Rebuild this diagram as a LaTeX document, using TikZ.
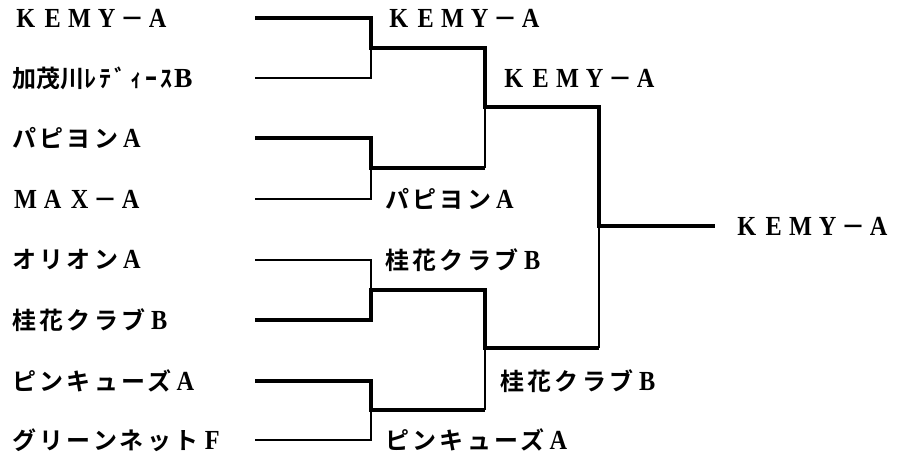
\documentclass[tikz,border=0pt]{standalone}
\usepackage{fontspec}
\usepackage{graphicx}
\usepackage{tikz}
\newfontfamily\jp{Noto Sans CJK JP}[BoldFont={Noto Sans CJK JP Bold},LetterSpace=14]
\newfontfamily\jpn{Noto Sans CJK JP}[BoldFont={Noto Sans CJK JP Bold}]
\newfontfamily\lat{Liberation Serif}[Scale=1.15]
\newcommand{\zw}[1]{\makebox[27pt]{\scalebox{0.88}[1]{\lat\bfseries #1}}}
\tikzset{
team/.style={anchor=west,inner sep=0pt,font=\fontsize{24}{28}\selectfont\jp\bfseries},
win/.style={line width=3.6pt},
lose/.style={line width=1.3pt}
}

\begin{document}
\begin{tikzpicture}[x=1pt,y=-1pt]
\useasboundingbox (0,0) rectangle (907,460);
\foreach \n/\y/\t in {1/18/{\zw{K}\zw{E}\zw{M}\zw{Y}－\zw{A}},
2/78/{{\jpn\bfseries 加茂川}ﾚﾃﾞｨｰｽ\kern1pt{\lat\bfseries B}},
3/138/{パピヨン\zw{A}},
4/199/{\zw{M}\zw{A}\zw{X}－\zw{A}},
5/260/{オリオン\zw{A}},
6/320/{桂花クラブ\zw{B}},
7/381/{ピンキューズ\zw{A}},
8/440/{グリーンネット\zw{F}}}
{\node[team] (e\n) at (12,\y) {\t};
\coordinate (s\n) at (255,\y);}
\coordinate (a1) at (371,48);
\coordinate (a2) at (371,168);
\coordinate (a3) at (371,290);
\coordinate (a4) at (371,410);
\coordinate (b1) at (485,107);
\coordinate (b2) at (485,348);
\coordinate (c1) at (599,226);
\coordinate (f) at (715,226);
\draw[win] (s1) -| (a1) -| (b1) -| (c1) -- (f);
\draw[lose] (s2) -| (a1);
\draw[win] (s3) -| (a2) -- (a2 -| b1);
\draw[lose] (a2 -| b1) -- (b1);
\draw[lose] (s4) -| (a2);
\draw[lose] (s5) -| (a3);
\draw[win] (s6) -| (a3) -| (b2) -- (b2 -| c1);
\draw[lose] (b2 -| c1) -- (c1);
\draw[win] (s7) -| (a4) -- (a4 -| b2);
\draw[lose] (a4 -| b2) -- (b2);
\draw[lose] (s8) -| (a4);
\node[team] (w1) at (385,18) {\zw{K}\zw{E}\zw{M}\zw{Y}－\zw{A}};
\node[team] (w2) at (385,199) {パピヨン\zw{A}};
\node[team] (w3) at (385,260) {桂花クラブ\zw{B}};
\node[team] (w4) at (385,440) {ピンキューズ\zw{A}};
\node[team] (v1) at (500,78) {\zw{K}\zw{E}\zw{M}\zw{Y}－\zw{A}};
\node[team] (v2) at (500,381) {桂花クラブ\zw{B}};
\node[team] (champ) at (733,226) {\zw{K}\zw{E}\zw{M}\zw{Y}－\zw{A}};
\end{tikzpicture}
\end{document}
